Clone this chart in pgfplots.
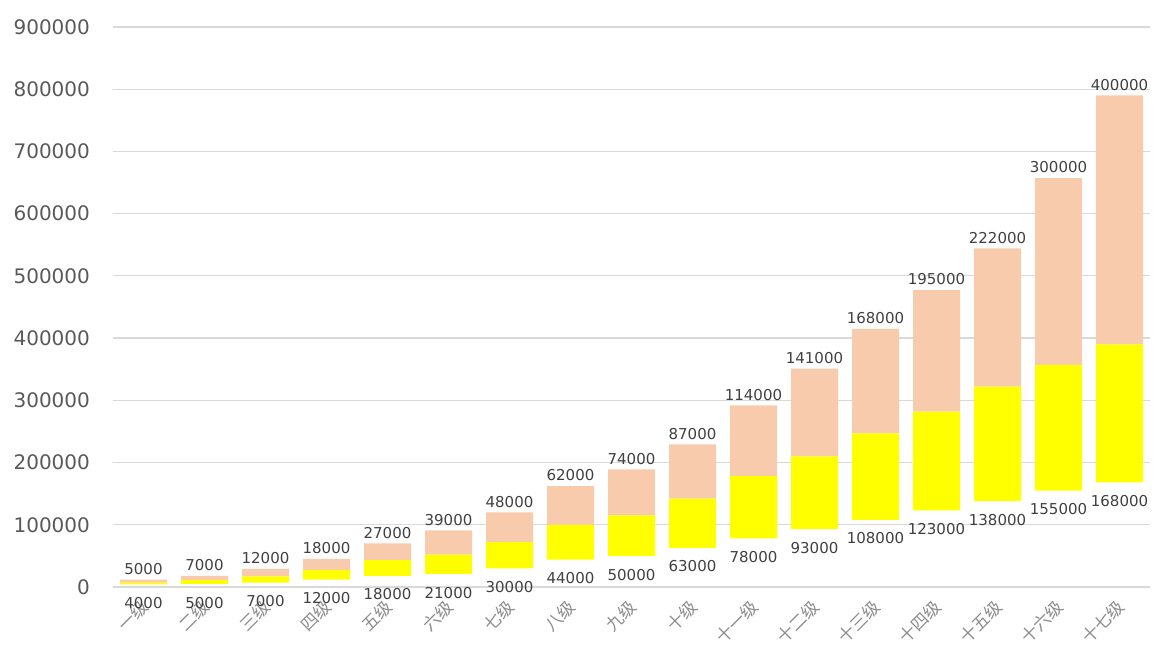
\documentclass[border=0pt]{standalone}
\usepackage{fontspec}
\setmainfont{DejaVu Sans}
\newfontfamily\cjk{Noto Sans CJK SC}
\usepackage{pgfplots}
\pgfplotsset{compat=1.18}
\definecolor{peach}{HTML}{F8CBAD}
\definecolor{baryellow}{HTML}{FFFF00}
\definecolor{tickgrey}{HTML}{595959}
\definecolor{lblgrey}{HTML}{404040}
\definecolor{catgrey}{HTML}{8C8C8C}
\definecolor{gridgrey}{HTML}{D9D9D9}
\begin{document}
\begin{tikzpicture}
\begin{axis}[
  scale only axis, width=518.5pt, height=280pt,
  ybar, stack plots=y, bar shift=0pt, bar width=23.5pt,
  xmin=-0.5, xmax=16.5, ymin=0, ymax=900000,
  xtick={0,...,16},
  xticklabels={一级,二级,三级,四级,五级,六级,七级,八级,九级,十级,十一级,十二级,十三级,十四级,十五级,十六级,十七级},
  xticklabel style={xshift=3pt, yshift=-6pt, rotate=45, anchor=east, font=\cjk\fontsize{8.5}{9.5}\selectfont, text=catgrey},
  ytick={0,100000,...,900000},
  scaled y ticks=false,
  yticklabel style={/pgf/number format/.cd, fixed, precision=0, 1000 sep={}, /tikz/.cd, font=\fontsize{10}{11}\selectfont, text=tickgrey, xshift=-8pt},
  /pgf/number format/assume math mode=true,
  ymajorgrids, grid style={draw=gridgrey, line width=0.6pt},
  axis line style={draw=none},
  major tick length=0pt,
  point meta=explicit symbolic,
]
% invisible base
\addplot[draw=none, fill=none] coordinates {
 (0,4000) (1,5000) (2,7000) (3,12000) (4,18000)
 (5,21000) (6,30000) (7,44000) (8,50000) (9,63000)
 (10,78000) (11,93000) (12,108000) (13,123000)
 (14,138000) (15,155000) (16,168000)};
% yellow
\addplot[draw=none, fill=baryellow] coordinates {
 (0,3000) (1,6000) (2,10000) (3,15000) (4,25000) (5,31000) (6,42000) (7,56000) (8,65000)
 (9,79000) (10,100000) (11,117000) (12,139000) (13,159000) (14,184000) (15,202000) (16,222000)};
% peach
\addplot[draw=none, fill=peach] coordinates {
 (0,5000) (1,7000) (2,12000) (3,18000) (4,27000)
 (5,39000) (6,48000) (7,62000) (8,74000) (9,87000)
 (10,114000) (11,141000) (12,168000) (13,195000)
 (14,222000) (15,300000) (16,400000)};
% labels below the bars (value of the base)
\addplot[stack plots=false, sharp plot, draw=none, mark=none, nodes near coords, nodes near coords style={anchor=north, yshift=-3pt, font=\fontsize{7.5}{8.5}\selectfont, text=lblgrey}] coordinates {
 (0,4000) [4000] (1,5000) [5000] (2,7000) [7000] (3,12000) [12000] (4,18000) [18000]
 (5,21000) [21000] (6,30000) [30000] (7,44000) [44000] (8,50000) [50000] (9,63000) [63000]
 (10,78000) [78000] (11,93000) [93000] (12,108000) [108000] (13,123000) [123000]
 (14,138000) [138000] (15,155000) [155000] (16,168000) [168000]};
% labels above the bars (value of the peach part, placed at the bar top)
\addplot[stack plots=false, sharp plot, draw=none, mark=none, nodes near coords, nodes near coords style={anchor=south, yshift=-1pt, font=\fontsize{7.5}{8.5}\selectfont, text=lblgrey}] coordinates {
 (0,12000) [5000] (1,18000) [7000] (2,29000) [12000] (3,45000) [18000] (4,70000) [27000]
 (5,91000) [39000] (6,120000) [48000] (7,162000) [62000] (8,189000) [74000] (9,229000) [87000]
 (10,292000) [114000] (11,351000) [141000] (12,415000) [168000] (13,477000) [195000]
 (14,544000) [222000] (15,657000) [300000] (16,790000) [400000]};
\end{axis}
\pgfresetboundingbox
\path ([xshift=-56.5pt,yshift=-32.5pt]current axis.south west) rectangle ([xshift=2.5pt,yshift=13.5pt]current axis.north east);
\end{tikzpicture}
\end{document}
